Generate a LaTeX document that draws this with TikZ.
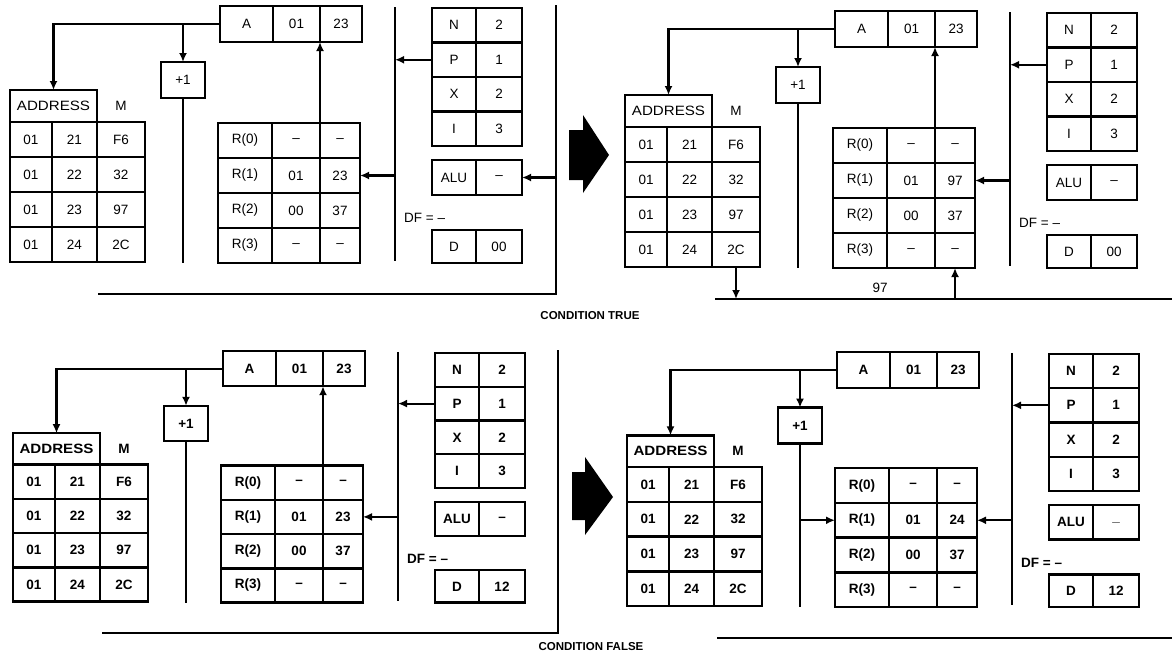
\documentclass[tikz,border=0pt]{standalone}
\usepackage{fontspec}
\setmainfont{Liberation Sans}
\usetikzlibrary{arrows.meta}
\def\pfont{\fontsize{13.5}{15}\selectfont}
\def\sy{1}
\tikzset{
  cellbox/.style={draw, line width=2.4pt, inner sep=0pt, outer sep=0pt, font=\pfont},
  lbl/.style={inner sep=1pt, font=\pfont},
  conn/.style={line width=2.2pt},
  arr/.style={conn, -{Latex[length=9pt,width=8pt]}},
  bus/.style={line width=2.8pt},
  captxt/.style={inner sep=1pt, font=\fontsize{11.5}{13}\selectfont\bfseries},
}
\newcommand\cell[6]{\node[cellbox, minimum width={(#3-#2)*1pt}, minimum height={(#5-#4)*\sy*1pt}] (#1) at ({(#2+#3)/2},{(#4+#5)/2}) {#6};}
\newcommand\panelbody[5]{%
  % A register
  \cell{#1a}{220}{273}{6}{42}{A}
  \cell{#1ah}{273}{320}{6}{42}{01}
  \cell{#1al}{320}{362}{6}{42}{23}
  % +1
  \cell{#1inc}{161}{205}{62}{98}{+1}
  % memory
  \cell{#1hdr}{10}{97}{90}{122}{\scalebox{1.12}[1]{ADDRESS}}
  \node[lbl] (#1mlbl) at (121,106) {M};
  \cell{#1m0a}{10}{52}{122}{157}{01}\cell{#1m0b}{52}{97}{122}{157}{21}\cell{#1m0c}{97}{145}{122}{157}{F6}
  \cell{#1m1a}{10}{52}{157}{192}{01}\cell{#1m1b}{52}{97}{157}{192}{22}\cell{#1m1c}{97}{145}{157}{192}{32}
  \cell{#1m2a}{10}{52}{192}{227}{01}\cell{#1m2b}{52}{97}{192}{227}{23}\cell{#1m2c}{97}{145}{192}{227}{97}
  \cell{#1m3a}{10}{52}{227}{262}{01}\cell{#1m3b}{52}{97}{227}{262}{24}\cell{#1m3c}{97}{145}{227}{262}{2C}
  % registers
  \cell{#1r0n}{218}{272}{123}{158}{R(0)}\cell{#1r0a}{272}{320}{123}{158}{\textendash}\cell{#1r0b}{320}{360}{123}{158}{\textendash}
  \cell{#1r1n}{218}{272}{158}{193}{R(1)}\cell{#1r1a}{272}{320}{158}{193}{01}\cell{#1r1b}{320}{360}{158}{193}{#2}
  \cell{#1r2n}{218}{272}{193}{228}{R(2)}\cell{#1r2a}{272}{320}{193}{228}{00}\cell{#1r2b}{320}{360}{193}{228}{37}
  \cell{#1r3n}{218}{272}{228}{263}{R(3)}\cell{#1r3a}{272}{320}{228}{263}{\textendash}\cell{#1r3b}{320}{360}{228}{263}{\textendash}
  % N P X I
  \cell{#1N}{432}{476}{8}{42.5}{N}\cell{#1Nv}{476}{522}{8}{42.5}{2}
  \cell{#1P}{432}{476}{42.5}{77}{P}\cell{#1Pv}{476}{522}{42.5}{77}{1}
  \cell{#1X}{432}{476}{77}{111.5}{X}\cell{#1Xv}{476}{522}{77}{111.5}{2}
  \cell{#1I}{432}{476}{111.5}{146}{I}\cell{#1Iv}{476}{522}{111.5}{146}{3}
  % ALU, DF, D
  \cell{#1alu}{432}{476}{160}{195}{ALU}\cell{#1aluv}{476}{522}{160}{195}{#4}
  \node[lbl, anchor=west] (#1df) at (403,218) {DF = \textendash};
  \cell{#1d}{432}{476}{230}{263}{D}\cell{#1dv}{476}{522}{230}{263}{#3}
  % bus
  \coordinate (#1bust) at (395,7);
  \coordinate (#1busb) at (395,261);
  \draw[bus] (#1bust) -- (#1busb);
  % connectors
  \draw[arr] (#1a.west) -| (#1hdr.north);
  \draw[arr] (#1inc.north |- #1a.west) -- (#1inc.north);
  \coordinate (#1incend) at (183,263);
  \draw[conn] (#1inc.south) -- (#1incend);
  \draw[arr] (#1P.west) -- (#1P.west -| #1bust);
  \draw[arr] (#1r1b.east -| #1bust) -- (#1r1b.east);
}
\begin{document}
\begin{tikzpicture}[x=1pt,y=-1pt]
\useasboundingbox (0,0) rectangle (1172,667);
\fill[white] (0,0) rectangle (1172,667);
% ---- panel 1 ----
\begin{scope}
  \panelbody{p1}{23}{00}{\textendash}{}
  \draw[arr] (p1r0a.north east) -- (p1ah.south east);
  \coordinate (p1rt) at (556,5);
  \coordinate (p1rb) at (556,294);
  \coordinate (p1bl) at (98,294);
  \draw[bus] (p1rt) -- (p1rb) -- (p1bl);
  \draw[arr] (p1aluv.east -| p1rt) -- (p1aluv.east);
\end{scope}
% ---- panel 2 ----
\begin{scope}[shift={(615,5)}]
  \panelbody{p2}{97}{00}{\textendash}{}
  \draw[arr] (p2r0a.north east) -- (p2ah.south east);
  \coordinate (p2bl) at (100,294);
  \coordinate (p2br) at (557,294);
  \draw[bus] (p2bl) -- (p2br);
  \draw[arr] (p2m3c.south) -- (p2m3c.south |- p2bl);
  \draw[arr] (p2r3b.south |- p2bl) -- (p2r3b.south);
  \node[lbl] (p2lbl) at (265,283) {97};
\end{scope}
% ---- panel 3 ----
\begin{scope}[shift={(3,345.1)}, yscale=0.979]
  \def\sy{0.979}
  \def\pfont{\fontsize{13.5}{15}\selectfont\bfseries}
  \panelbody{p3}{23}{12}{\textendash}{}
  \draw[arr] (p3r0a.north east) -- (p3ah.south east);
  \coordinate (p3rt) at (555,5);
  \coordinate (p3rb) at (555,294);
  \coordinate (p3bl) at (99,294);
  \draw[bus] (p3rt) -- (p3rb) -- (p3bl);
\end{scope}
% ---- panel 4 ----
\begin{scope}[shift={(617,346)}, yscale=0.993]
  \def\sy{0.993}
  \def\pfont{\fontsize{13.5}{15}\selectfont\bfseries}
  \panelbody{p4}{24}{12}{\_}{}
  \coordinate (p4bl) at (100,294);
  \coordinate (p4br) at (555,294);
  \draw[bus] (p4bl) -- (p4br);
  \draw[arr] (p4inc.south |- p4r1n.west) -- (p4r1n.west);
\end{scope}
% ---- big arrows ----
\fill (569,130) -- (583,130) -- (583,115) -- (609,155) -- (583,193) -- (583,180) -- (569,180) -- cycle;
\fill (572,472) -- (585,472) -- (585,457) -- (613,497) -- (585,535) -- (585,520) -- (572,520) -- cycle;
% ---- captions ----
\node[captxt] (captrue) at (590,316) {CONDITION TRUE};
\node[captxt] (capfalse) at (591,647) {CONDITION FALSE};
\end{tikzpicture}
\end{document}
